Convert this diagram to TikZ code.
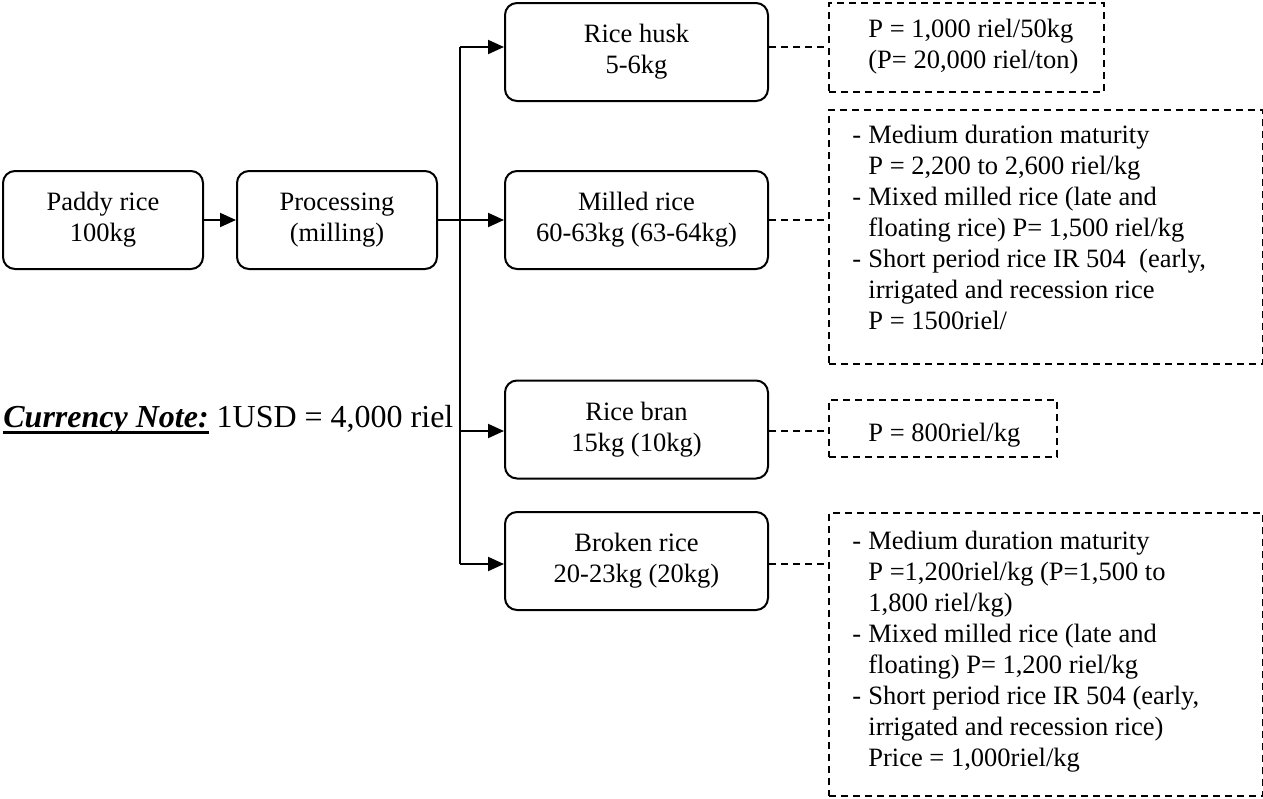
\documentclass[tikz,border=0pt]{standalone}
\usepackage{fontspec}
\setmainfont{Liberation Serif}
\usetikzlibrary{arrows.meta}
\newcommand\bu{\makebox[8pt][l]{-}}
\newcommand\ind{\hspace*{8pt}}
\newcommand\thickul[1]{\setbox0\hbox{#1}\rlap{\rule[-3.5pt]{\wd0}{1.5pt}}\box0\relax}
\newcommand\mainfs{\fontsize{13.25}{15.5}\selectfont}
\begin{document}
\begin{tikzpicture}[x=0.5pt,y=-0.5pt,
  box/.style={draw, rounded corners=6pt, line width=1pt, minimum width=100pt,
    minimum height=49pt, align=center, inner sep=0pt, font=\mainfs},
  rbox/.style={box, minimum width=131.5pt},
  pbox/.style={draw, line width=0.8pt, dash pattern=on 3.5pt off 2.5pt,
    anchor=north west, inner sep=0pt},
  dcon/.style={line width=0.8pt, dash pattern=on 3.5pt off 2.5pt},
  conn/.style={line width=1pt},
  arr/.style={conn, -{Triangle[length=8pt,width=7pt]}},
  ptxt/.style={anchor=base west, align=left, inner sep=0pt, font=\mainfs}]
\useasboundingbox (0,0) rectangle (1263,798);
% main boxes
\node[box] (paddy) at (103,220) {Paddy rice\\100kg};
\node[box] (proc) at (337,220) {Processing\\(milling)};
\node[rbox] (husk) at (636.5,52) {Rice husk\\5-6kg};
\node[rbox] (milled) at (636.5,220) {Milled rice\\60-63kg (63-64kg)};
\node[rbox] (bran) at (636.5,429.5) {Rice bran\\15kg (10kg)};
\node[rbox] (broken) at (636.5,561) {Broken rice\\20-23kg (20kg)};
% price boxes
\node[pbox, minimum width=137.5pt, minimum height=44.5pt] (hp) at (828,2) {};
\node[pbox, minimum width=217pt, minimum height=127pt] (mp) at (828,109) {};
\node[pbox, minimum width=114pt, minimum height=28.5pt] (bp) at (828,399) {};
\node[pbox, minimum width=217pt, minimum height=141.5pt] (kp) at (828,512) {};
% trunk coordinates
\coordinate (t1) at (460,47);
\coordinate (t3) at (460,431);
\coordinate (t4) at (460,564);
% connectors
\draw[arr] (paddy) -- (proc);
\draw[conn] (t1) -- (t4);
\draw[arr] (proc) -- (milled);
\draw[arr] (t1) -- (t1 -| husk.west);
\draw[arr] (t3) -- (t3 -| bran.west);
\draw[arr] (t4) -- (t4 -| broken.west);
\draw[dcon] (t1 -| husk.east) -- (t1 -| hp.west);
\draw[dcon] (milled.east) -- (milled.east -| mp.west);
\draw[dcon] (t3 -| bran.east) -- (t3 -| bp.west);
\draw[dcon] (t4 -| broken.east) -- (t4 -| kp.west);
% price texts (base anchor = baseline of last line)
\node[ptxt] (hpt) at (868,68) {P = 1,000 riel/50kg\\(P= 20,000 riel/ton)};
\node[ptxt] (mpt) at (852,329) {\bu Medium duration maturity\\
\ind P = 2,200 to 2,600 riel/kg\\
\bu Mixed milled rice (late and\\
\ind floating rice) P= 1,500 riel/kg\\
\bu Short period rice IR 504\ \ (early,\\
\ind irrigated and recession rice\\
\ind P = 1500riel/};
\node[ptxt] (bpt) at (868,441) {P = 800riel/kg};
\node[ptxt] (kpt) at (852,766) {\bu Medium duration maturity\\
\ind P =1,200riel/kg (P=1,500 to\\
\ind 1,800 riel/kg)\\
\bu Mixed milled rice (late and\\
\ind floating) P= 1,200 riel/kg\\
\bu Short period rice IR 504 (early,\\
\ind irrigated and recession rice)\\
\ind Price = 1,000riel/kg};
% currency note
\node[anchor=base west, inner sep=0pt, font=\fontsize{16}{19}\selectfont] (cur) at (3,427)
  {\thickul{\textbf{\textit{Currency Note:}}} 1USD = 4,000 riel};
\end{tikzpicture}
\end{document}
